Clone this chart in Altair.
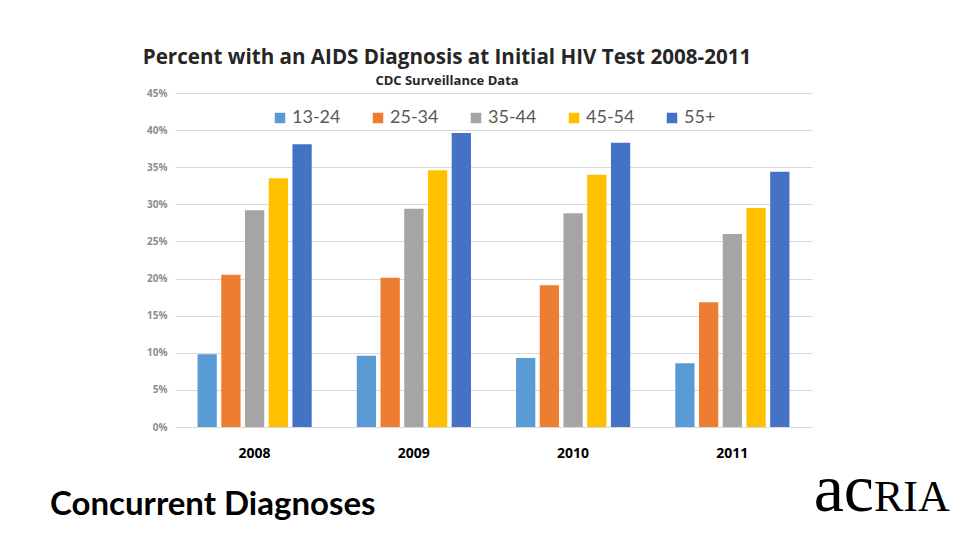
import altair as alt
import pandas as pd

# Percent of people with an AIDS diagnosis at their initial HIV test, by age group
years = ["2008", "2009", "2010", "2011"]
age_groups = ["13-24", "25-34", "35-44", "45-54", "55+"]
pct_13_24 = [9.8, 9.6, 9.3, 8.6]
pct_25_34 = [20.5, 20.1, 19.1, 16.8]
pct_35_44 = [29.2, 29.4, 28.8, 26.0]
pct_45_54 = [33.5, 34.6, 34.0, 29.5]
pct_55_plus = [38.1, 39.6, 38.3, 34.4]
colors = ["#5B9BD5", "#ED7D31", "#A5A5A5", "#FFC000", "#4472C4"]

title_text = "Percent with an AIDS Diagnosis at Initial HIV Test 2008-2011"
subtitle_text = "CDC Surveillance Data"
footer_text = "Concurrent Diagnoses"
logo_lower = "ac"
logo_upper = "RIA"

series = [pct_13_24, pct_25_34, pct_35_44, pct_45_54, pct_55_plus]
rows = []
for group, values in zip(age_groups, series):
    for year, v in zip(years, values):
        rows.append({"year": year, "age": group, "pct": v / 100})
df = pd.DataFrame(rows)

W, H = 637, 334

bars = alt.Chart(df).mark_bar().encode(
    x=alt.X("year:N", sort=years,
            scale=alt.Scale(paddingInner=0, paddingOuter=0),
            axis=alt.Axis(title=None, labelAngle=0, ticks=False, domain=False,
                          labelFont="Open Sans", labelFontSize=14,
                          labelFontWeight="bold", labelColor="#000000",
                          labelPadding=19)),
    xOffset=alt.XOffset("age:N", sort=age_groups,
                        scale=alt.Scale(paddingInner=0.1875, paddingOuter=0.95)),
    y=alt.Y("pct:Q",
            scale=alt.Scale(domain=[0, 0.45], nice=False),
            axis=alt.Axis(title=None, format=".0%", values=[i * 0.05 for i in range(10)],
                          ticks=False, domain=False, gridColor="#D9D9D9",
                          gridWidth=1, labelFont="Open Sans", labelFontSize=10,
                          labelFontWeight="bold", labelColor="#8C8C8C",
                          labelPadding=8)),
    color=alt.Color("age:N", sort=age_groups,
                    scale=alt.Scale(domain=age_groups, range=colors),
                    legend=alt.Legend(title=None, orient="none", direction="horizontal",
                                      legendX=96, legendY=16,
                                      symbolType="square", symbolSize=110,
                                      symbolStrokeWidth=0, labelFont="Lato",
                                      labelFontSize=18, labelColor="#595959",
                                      labelOffset=3, columnPadding=28)),
)

one = pd.DataFrame({"k": [0]})

title = alt.Chart(one).mark_text(
    text=title_text, font="Open Sans", fontSize=20.6, fontWeight="bold",
    color="#262626", align="center", baseline="middle"
).encode(x=alt.value(272), y=alt.value(-35))

subtitle = alt.Chart(one).mark_text(
    text=subtitle_text, font="Open Sans", fontSize=13, fontWeight="bold",
    color="#262626", align="center", baseline="middle"
).encode(x=alt.value(272), y=alt.value(-12))

footer = alt.Chart(one).mark_text(
    text=footer_text, font="Lato", fontSize=33, fontWeight="bold", color="#000000",
    align="left", baseline="middle"
).encode(x=alt.value(-125), y=alt.value(412))

logo_a = alt.Chart(one).mark_text(
    text=logo_lower, font="Liberation Serif", fontSize=68, color="#000000",
    align="right", baseline="alphabetic"
).encode(x=alt.value(699), y=alt.value(418))

logo_b = alt.Chart(one).mark_text(
    text=logo_upper, font="Liberation Serif", fontSize=44, color="#000000",
    align="left", baseline="alphabetic"
).encode(x=alt.value(699), y=alt.value(418))

chart = alt.layer(bars, title, subtitle, footer, logo_a, logo_b).properties(
    width=W, height=H,
    autosize=alt.AutoSizeParams(type="none"),
    padding={"left": 175, "top": 93, "right": 960 - 175 - W, "bottom": 540 - 93 - H},
    background="#FFFFFF",
).configure_view(stroke=None)

chart.save("out.html", embed_options={"renderer": "svg", "actions": False})
